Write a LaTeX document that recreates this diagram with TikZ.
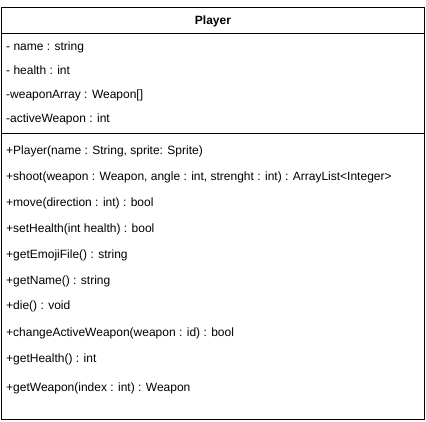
\documentclass[tikz,border=0pt]{standalone}
\usepackage{fontspec}
\setmainfont{Liberation Sans}
\begin{document}
\begin{tikzpicture}[x=1pt,y=-1pt,
  member/.style={anchor=base west,inner sep=0pt,font=\fontsize{12}{14}\selectfont},
  title/.style={anchor=base,inner sep=0pt,font=\fontsize{12}{14}\selectfont\bfseries},
  frame/.style={draw=black,line width=1pt}]
\useasboundingbox (0,0) rectangle (426,421);
\draw[frame] (1.5,7.5) rectangle (424.5,419.5);
\draw[frame] (1.5,33.5) -- (424.5,33.5);
\draw[frame] (1.5,133.5) -- (424.5,133.5);
\node[title] (cls) at (213,24.5) {Player};
\node[member] (a1) at (6,50) {- name : string};
\node[member] (a2) at (6,74) {- health : int};
\node[member] (a3) at (6,98) {-weaponArray : Weapon[]};
\node[member] (a4) at (6,122) {-activeWeapon : int};
\node[member] (m1) at (6,154) {+Player(name : String, sprite: Sprite)};
\node[member] (m2) at (6,180) {+shoot(weapon : Weapon, angle : int, strenght : int) : ArrayList<Integer>};
\node[member] (m3) at (6,206) {+move(direction : int) : bool};
\node[member] (m4) at (6,232) {+setHealth(int health) : bool};
\node[member] (m5) at (6,258) {+getEmojiFile() : string};
\node[member] (m6) at (6,284) {+getName() : string};
\node[member] (m7) at (6,309) {+die() : void};
\node[member] (m8) at (6,336) {+changeActiveWeapon(weapon : id) : bool};
\node[member] (m9) at (6,362) {+getHealth() : int};
\node[member] (m10) at (6,391) {+getWeapon(index : int) : Weapon};
\end{tikzpicture}
\end{document}
